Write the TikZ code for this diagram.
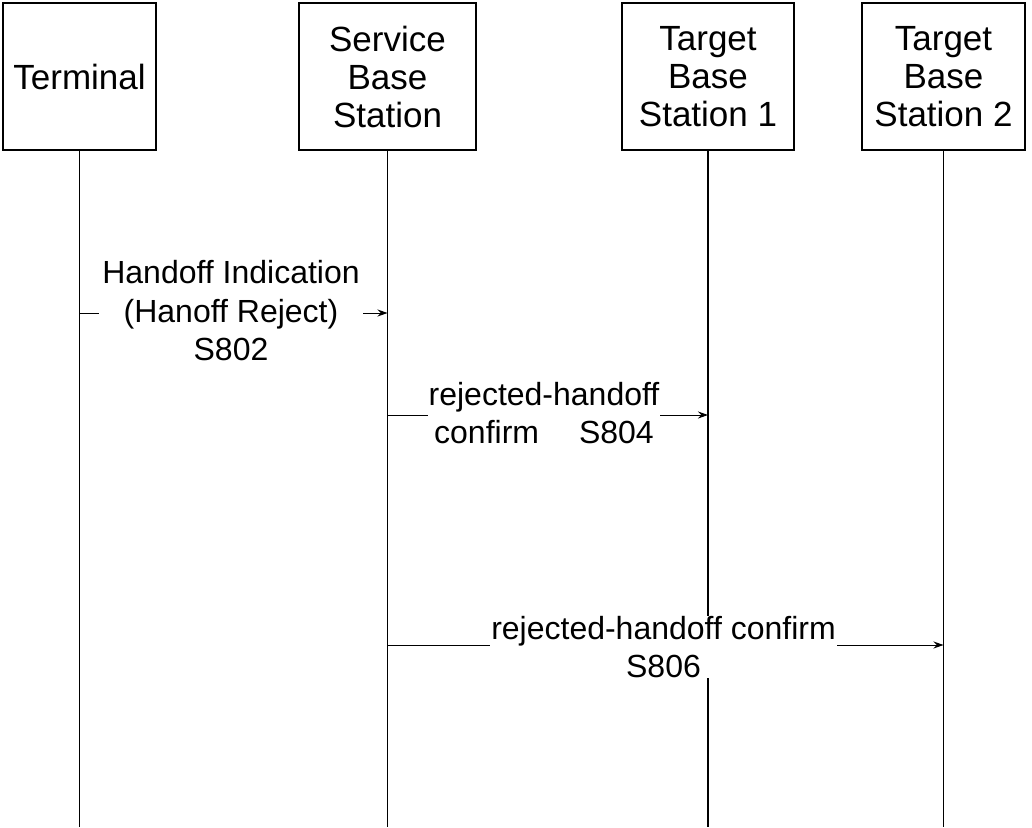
\documentclass[tikz,border=0pt]{standalone}
\usepackage{fontspec}
\setmainfont{Liberation Sans}
\usetikzlibrary{arrows.meta}
\begin{document}
\begin{tikzpicture}[x=1pt,y=-1pt,
  actor/.style={draw,line width=1.3pt,inner sep=0pt,align=center,minimum height=147pt,font=\fontsize{35}{38}\selectfont},
  life/.style={line width=1.3pt},
  msg/.style={line width=1pt,-{Stealth[length=10pt,width=7pt]}},
  lbl/.style={fill=white,inner xsep=1pt,inner ysep=0pt,align=center,font=\fontsize{32}{38.5}\selectfont}]
\useasboundingbox (0,0) rectangle (1032,827);
\node[actor,minimum width=153pt] (term) at (79.5,76.5) {Terminal};
\node[actor,minimum width=177pt] (serv) at (387.5,76.5) {Service\\Base\\Station};
\node[actor,minimum width=172pt] (tbs1) at (708,76.5) {Target\\Base\\Station 1};
\node[actor,minimum width=163pt] (tbs2) at (943.5,76.5) {Target\\Base\\Station 2};
\coordinate (termEnd) at (79.5,827);
\coordinate (servEnd) at (387.5,827);
\coordinate (tbs1End) at (708,827);
\coordinate (tbs2End) at (943.5,827);
\draw[life] (term.south) -- (termEnd);
\draw[life] (serv.south) -- (servEnd);
\draw[life] (tbs1.south) -- (tbs1End);
\draw[life] (tbs2.south) -- (tbs2End);
% S802
\coordinate (m1a) at (79.5,313);
\coordinate (m1b) at (387.5,313);
\draw[msg] (m1a) -- (m1b);
\node[lbl,inner xsep=3pt] (l1) at (231,311) {Handoff Indication\\(Hanoff Reject)\\S802};
% S804
\coordinate (m2a) at (387.5,415);
\coordinate (m2b) at (708,415);
\draw[msg] (m2a) -- (m2b);
\node[lbl] (l2) at (544,413) {rejected-handoff\\confirm\hspace{40pt}S804};
% S806
\coordinate (m3a) at (387.5,645);
\coordinate (m3b) at (943.5,645);
\draw[msg] (m3a) -- (m3b);
\node[lbl] (l3) at (663.5,647) {rejected-handoff confirm\\S806};
\end{tikzpicture}
\end{document}
